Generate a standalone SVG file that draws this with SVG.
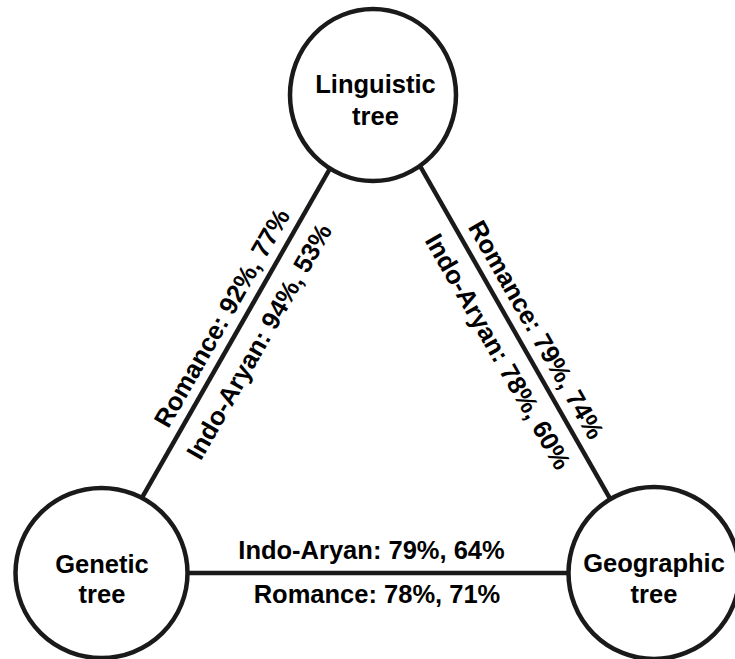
<svg xmlns="http://www.w3.org/2000/svg" width="735" height="659" viewBox="0 0 735 659">
  <style>
    .edge { stroke: #1a1a1a; stroke-width: 4.5; fill: none; stroke-linecap: butt; }
    .node { stroke: #1a1a1a; stroke-width: 4.5; fill: #ffffff; }
    text { font-family: "Liberation Sans", Arial, Helvetica, sans-serif; font-weight: bold; font-size: 25.5px; fill: #000000; text-anchor: middle; }
  </style>
  <rect width="735" height="659" fill="#ffffff"/>
  <g id="connectors">
    <line class="edge" x1="372" y1="95" x2="99" y2="573"/>
    <line class="edge" x1="379.5" y1="95" x2="652.5" y2="573"/>
    <line class="edge" x1="101.5" y1="573" x2="654" y2="573"/>
  </g>
  <g id="node-linguistic">
    <ellipse class="node" cx="373" cy="95" rx="83" ry="86"/>
    <text x="375.5" y="93">Linguistic</text>
    <text x="375.5" y="125">tree</text>
  </g>
  <g id="node-genetic">
    <ellipse class="node" cx="101.5" cy="573" rx="86" ry="85"/>
    <text x="102" y="573">Genetic</text>
    <text x="102" y="603">tree</text>
  </g>
  <g id="node-geographic">
    <ellipse class="node" cx="654" cy="573" rx="85.5" ry="86"/>
    <text x="654" y="572">Geographic</text>
    <text x="654" y="603">tree</text>
  </g>
  <g id="edge-labels">
    <text transform="translate(229.5,322.3) rotate(-60.27)">Romance: 92%, 77%</text>
    <text transform="translate(266.8,345.9) rotate(-60.27)">Indo-Aryan: 94%, 53%</text>
    <text transform="translate(528.6,334) rotate(60.27)">Romance: 79%, 74%</text>
    <text transform="translate(490.4,355.9) rotate(60.27)">Indo-Aryan: 78%, 60%</text>
    <text x="371.5" y="559">Indo-Aryan: 79%, 64%</text>
    <text x="377" y="603">Romance: 78%, 71%</text>
  </g>
</svg>
